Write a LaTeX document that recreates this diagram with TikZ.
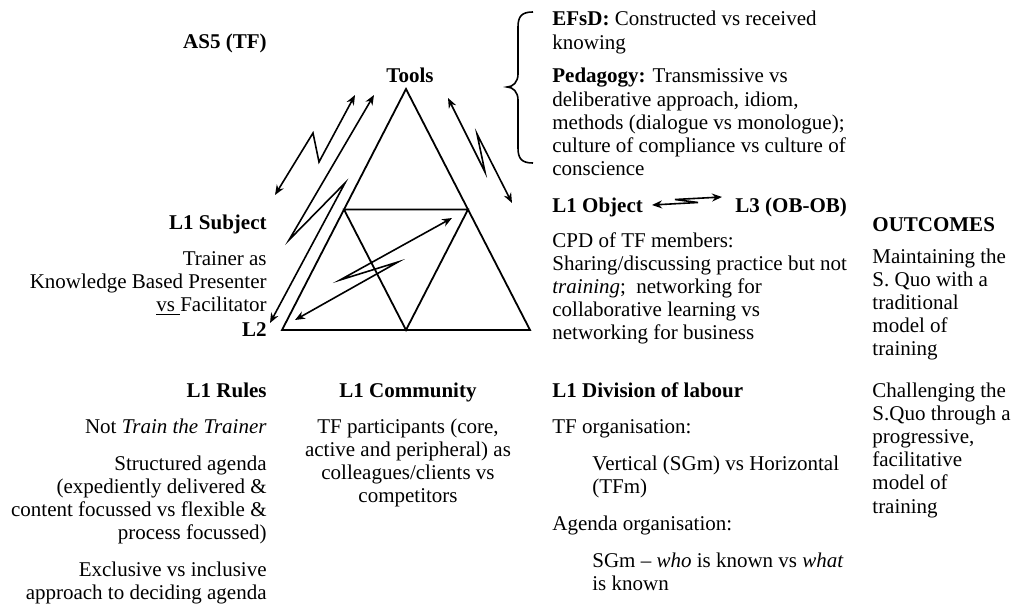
\documentclass[tikz,border=0pt]{standalone}
\usepackage{fontspec}
\setmainfont{Liberation Serif}
\usetikzlibrary{arrows.meta}
\newcommand{\mytxt}{\fontsize{10.5}{11.6}\selectfont}
\newcommand{\rblk}[1]{\parbox[t]{10cm}{\mytxt\raggedleft #1}}
\newcommand{\lblk}[1]{\parbox[t]{10cm}{\mytxt\raggedright #1}}
\newcommand{\cblk}[1]{\parbox[t]{10cm}{\mytxt\centering #1}}
\begin{document}
\begin{tikzpicture}[x=0.5pt,y=-0.5pt,
  tri/.style={line width=0.9pt},
  link/.style={line width=0.8pt,{Stealth[length=5pt,width=4pt]}-{Stealth[length=5pt,width=4pt]}},
  R/.style={anchor=base east,inner sep=0pt,font=\mytxt},
  L/.style={anchor=base west,inner sep=0pt,font=\mytxt},
  C/.style={anchor=base,inner sep=0pt,font=\mytxt},
  brace/.style={line width=0.8pt}]
\useasboundingbox (0,0) rectangle (1026,615);

% triangle
\coordinate (apex) at (406,89);
\coordinate (bl) at (282,330);
\coordinate (br) at (530,330);
\coordinate (ml) at (344,209.5);
\coordinate (mr) at (468,209.5);
\coordinate (mb) at (406,330);
\draw[tri] (apex) -- (bl) -- (br) -- cycle;
\draw[tri] (ml) -- (mr) -- (mb) -- cycle;

% zigzag arrows
\coordinate (a1) at (275,195); \coordinate (a2) at (313,133);
\coordinate (a3) at (319,162); \coordinate (a4) at (355,95);
\draw[link] (a1) -- (a2) -- (a3) -- (a4);

\coordinate (b1) at (374,95); \coordinate (b2) at (289,240);
\coordinate (b3) at (345,183); \coordinate (b4) at (270,323);
\draw[link] (b1) -- (b2) -- (b3) -- (b4);

\coordinate (c1) at (448,98); \coordinate (c2) at (485,172);
\coordinate (c3) at (477,134); \coordinate (c4) at (512,203);
\draw[link] (c1) -- (c2) -- (c3) -- (c4);

\coordinate (d1) at (452,218); \coordinate (d2) at (340,280);
\coordinate (d3) at (398,262); \coordinate (d4) at (295,320);
\draw[link] (d1) -- (d2) -- (d3) -- (d4);

\coordinate (e1) at (652,205); \coordinate (e2) at (698,202.5);
\coordinate (e3) at (675,199.5); \coordinate (e4) at (722,197);
\draw[link] (e1) -- (e2) -- (e3) -- (e4);

% brace
\draw[brace] (533,12) .. controls (522,12) and (518,16) .. (518,27) -- (518,74)
  .. controls (518,82) and (513,87) .. (507,87)
  .. controls (513,87) and (518,92) .. (518,100) -- (518,148)
  .. controls (518,159) and (522,163) .. (533,163);

% texts
\node[R] (as5) at (267,49) {\textbf{AS5 (TF)}};
\node[C] (tools) at (410,83) {\textbf{Tools}};
\node[L] (efsd) at (552,26) {\lblk{\textbf{EFsD:} Constructed vs received\\knowing}};
\node[L] (ped) at (552,83) {\lblk{\textbf{Pedagogy:} Transmissive vs\\deliberative approach, idiom,\\methods (dialogue vs monologue);\\culture of compliance vs culture of\\conscience}};

\node[R] (subj) at (267,229) {\textbf{L1 Subject}};
\node[R] (subjtxt) at (267,265) {\rblk{Trainer as\\Knowledge Based Presenter\\\underline{vs\ }Facilitator}};
\node[R] (l2) at (267,336) {\textbf{L2}};

\node[L] (obj) at (552,212) {\textbf{L1 Object}};
\node[L] (l3) at (735,212) {\textbf{L3 (OB-OB)}};
\node[L] (objtxt) at (552,247) {\lblk{CPD of TF members:\\Sharing/discussing practice but not\\\textit{training};\ \ networking for\\collaborative learning vs\\networking for business}};

\node[L] (outc) at (872,231) {\textbf{OUTCOMES}};
\node[L] (out1) at (872,263) {\lblk{Maintaining the\\S. Quo with a\\traditional\\model of\\training}};
\node[L] (out2) at (872,397) {\lblk{Challenging the\\S.Quo through a\\progressive,\\facilitative\\model of\\training}};

\node[R] (rules) at (267,397) {\textbf{L1 Rules}};
\node[R] (r1) at (267,433) {Not \textit{Train the Trainer}};
\node[R] (r2) at (267,470) {\rblk{Structured agenda\\(expediently delivered \&\\content focussed vs flexible \&\\process focussed)}};
\node[R] (r3) at (267,576) {\rblk{Exclusive vs inclusive\\approach to deciding agenda}};

\node[C] (comm) at (408,397) {\textbf{L1 Community}};
\node[C] (commtxt) at (408,433) {\cblk{TF participants (core,\\active and peripheral) as\\colleagues/clients vs\\competitors}};

\node[L] (div) at (552,397) {\textbf{L1 Division of labour}};
\node[L] (dv1) at (552,433) {TF organisation:};
\node[L] (dv2) at (592,470) {\lblk{Vertical (SGm) vs Horizontal\\(TFm)}};
\node[L] (dv3) at (552,530) {Agenda organisation:};
\node[L] (dv4) at (592,567) {\lblk{SGm -- \textit{who} is known vs \textit{what}\\is known}};
\end{tikzpicture}
\end{document}
